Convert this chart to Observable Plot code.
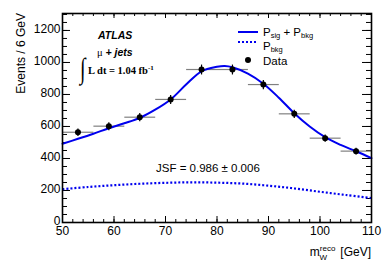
<!DOCTYPE html>
<html><head><meta charset="utf-8">
<script src="https://cdn.jsdelivr.net/npm/d3@7"></script>
<script src="https://cdn.jsdelivr.net/npm/@observablehq/plot@0.6"></script>
<style>
body{margin:0;background:#fff}
svg{font-family:"Liberation Sans",Arial,Helvetica,sans-serif}
</style>
</head><body><div id="chart"></div>
<script>
// ---- data ----
const binCenters = [53, 59, 65, 71, 77, 83, 89, 95, 101, 107];
const eventCounts = [564, 602, 658, 769, 956, 956, 862, 679, 527, 446];
const eventErrors = [24, 25, 26, 28, 31, 31, 29, 26, 23, 21];
const binHalfWidth = 3;
const fitMass = [50, 53, 56, 59, 62, 65, 68, 71, 74, 77, 80, 81.5, 83, 86, 89, 92, 95, 98, 101, 104, 107, 110];
const fitSigBkg = [492, 523, 555, 589, 620, 654, 705, 769, 862, 945, 973, 978, 970, 930, 867, 780, 683, 600, 533, 485, 445, 402];
const bkgMass = [50, 55, 60, 65, 70, 75, 80, 85, 90, 95, 100, 105, 110];
const fitBkg = [208, 222, 233, 242, 248, 251, 249, 243, 230, 213, 192, 172, 153];
const xMajorTicks = [50, 60, 70, 80, 90, 100, 110];
const xMinorTicks = d3.range(50, 111, 2);
const yMajorTicks = [0, 200, 400, 600, 800, 1000, 1200];
const yMinorTicks = d3.range(0, 1301, 50);
const yTitle = "Events / 6 GeV";
const jsfText = "JSF = 0.986 \u00B1 0.006";

// ---- layout ----
const W = 390, H = 265, mL = 62, mR = 19, mT = 13, mB = 43;
const innerW = W - mL - mR, innerH = H - mT - mB;

const pts = binCenters.map((x, i) => ({x, y: eventCounts[i], e: eventErrors[i]}));
const sb = fitMass.map((x, i) => ({x, y: fitSigBkg[i]}));
const bk = bkgMass.map((x, i) => ({x, y: fitBkg[i]}));
const blue = "#0000ee";

const plot = Plot.plot({
  width: W, height: H,
  marginLeft: mL, marginRight: mR, marginTop: mT, marginBottom: mB,
  x: {domain: [50, 110]},
  y: {domain: [0, 1306]},
  style: {fontFamily: "Liberation Sans, Arial, sans-serif", fontSize: "12px", color: "black", background: "white"},
  marks: [
    Plot.axisX(xMajorTicks, {tickSize: 0, tickPadding: 4, label: null, fontSize: 12, tickFormat: d => String(d)}),
    Plot.axisY(yMajorTicks, {tickSize: 0, tickPadding: 2, label: null, fontSize: 12, dy: -1, tickFormat: d => String(d)}),
    // ticks on all four sides (inward)
    Plot.tickX(xMajorTicks, {x: d => d, insetTop: innerH - 6, stroke: "black"}),
    Plot.tickX(xMinorTicks, {x: d => d, insetTop: innerH - 3, stroke: "black"}),
    Plot.tickX(xMajorTicks, {x: d => d, insetBottom: innerH - 5, stroke: "black"}),
    Plot.tickX(xMinorTicks, {x: d => d, insetBottom: innerH - 3, stroke: "black"}),
    Plot.tickY(yMajorTicks, {y: d => d, insetRight: innerW - 8, stroke: "black"}),
    Plot.tickY(yMinorTicks, {y: d => d, insetRight: innerW - 5, stroke: "black"}),
    Plot.tickY(yMajorTicks, {y: d => d, insetLeft: innerW - 9, stroke: "black"}),
    Plot.tickY(yMinorTicks, {y: d => d, insetLeft: innerW - 5, stroke: "black"}),
    // horizontal (bin width) error bars
    Plot.link(pts, {x1: d => d.x - binHalfWidth, x2: d => d.x + binHalfWidth, y1: "y", y2: "y", stroke: "#808080", strokeWidth: 1.2}),
    // fit curves
    Plot.line(bk, {x: "x", y: "y", stroke: blue, strokeWidth: 2.2, strokeDasharray: "2,2", strokeLinecap: "butt", curve: "catmull-rom"}),
    Plot.line(sb, {x: "x", y: "y", stroke: blue, strokeWidth: 2, curve: "catmull-rom"}),
    // vertical stat errors
    Plot.link(pts, {x1: "x", x2: "x", y1: d => d.y - d.e, y2: d => d.y + d.e, stroke: "black", strokeWidth: 1.2}),
    Plot.dot(pts, {x: "x", y: "y", r: 3, fill: "black", stroke: null}),
    Plot.frame({stroke: "black", strokeWidth: 1.6})
  ]
});
document.getElementById("chart").appendChild(plot);

// ---- annotations ----
const svg = d3.select(plot);
const g = svg.append("g").attr("fill", "black").attr("text-anchor", "start");

// y title (rotated, right-aligned at top)
g.append("text")
  .attr("transform", `translate(25,${mT}) rotate(-90)`)
  .attr("text-anchor", "end").attr("font-size", 12).text(yTitle);

// x title m_W^reco [GeV]
const xt = g.append("text").attr("x", W - mR).attr("y", 256).attr("text-anchor", "end").attr("font-size", 12);
xt.append("tspan").text("m");
xt.append("tspan").attr("font-size", 8).attr("dy", -5).text("reco");
xt.append("tspan").attr("font-size", 8).attr("dx", -16).attr("dy", 9).text("W");
xt.append("tspan").attr("dy", -4).attr("dx", 10).text(" [GeV]");

// ATLAS label
g.append("text").attr("x", 98).attr("y", 39).attr("font-size", 10.5)
  .attr("font-weight", "bold").attr("font-style", "italic").text("ATLAS");
const mu = g.append("text").attr("x", 97).attr("y", 56).attr("font-size", 10.5);
mu.append("tspan").attr("font-family", "Liberation Serif, serif").text("\u03BC");
mu.append("tspan").attr("font-weight", "bold").attr("font-style", "italic").text(" + jets");
g.append("text").attr("transform", "translate(80,78) scale(1,1.45)").attr("font-size", 20)
  .attr("font-family", "Liberation Serif, DejaVu Serif, serif").text("\u222B");
const lum = g.append("text").attr("x", 88).attr("y", 74).attr("font-size", 10.5)
  .attr("font-family", "Liberation Serif, serif").attr("font-weight", "bold");
lum.append("tspan").text("L dt = 1.04 fb");
lum.append("tspan").attr("font-size", 7).attr("dy", -4).text("-1");

// legend
g.append("line").attr("x1", 238).attr("x2", 258).attr("y1", 32).attr("y2", 32)
  .attr("stroke", blue).attr("stroke-width", 2);
const l1 = g.append("text").attr("x", 263).attr("y", 36).attr("font-size", 11.5);
l1.append("tspan").text("P");
l1.append("tspan").attr("font-size", 7.5).attr("dy", 2).text("sig");
l1.append("tspan").attr("dy", -2).text(" + P");
l1.append("tspan").attr("font-size", 7.5).attr("dy", 2).text("bkg");
g.append("line").attr("x1", 238).attr("x2", 258).attr("y1", 42).attr("y2", 42)
  .attr("stroke", blue).attr("stroke-width", 2.2).attr("stroke-dasharray", "2,2");
const l2 = g.append("text").attr("x", 263).attr("y", 50).attr("font-size", 11.5);
l2.append("tspan").text("P");
l2.append("tspan").attr("font-size", 7.5).attr("dy", 2).text("bkg");
g.append("circle").attr("cx", 248).attr("cy", 60).attr("r", 3);
g.append("text").attr("x", 263).attr("y", 65).attr("font-size", 11.5).text("Data");

// JSF
g.append("text").attr("x", 156).attr("y", 172).attr("font-size", 11.5).text(jsfText);
</script>
</body></html>
